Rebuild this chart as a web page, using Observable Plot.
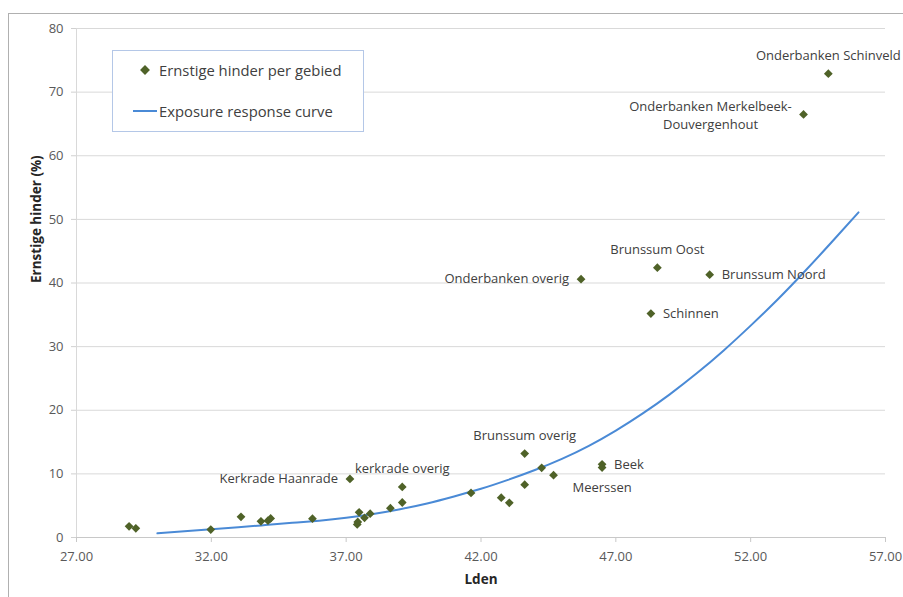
<!DOCTYPE html>
<html>
<head>
<meta charset="utf-8">
<script src="https://cdn.jsdelivr.net/npm/d3@7"></script>
<script src="https://cdn.jsdelivr.net/npm/@observablehq/plot@0.6"></script>
<style>
  html, body { margin: 0; padding: 0; background: #fff; overflow: hidden; }
  #wrap { position: relative; width: 903px; height: 597px; overflow: hidden; font-family: "Open Sans", sans-serif; }
  #frame { position: absolute; left: 8px; top: 13px; width: 1000px; height: 1000px; border-left: 1px solid #b0b0b0; border-top: 1px solid #b0b0b0; box-sizing: border-box; }
  #chart { position: absolute; left: 0; top: 0; }
  #legend { position: absolute; left: 112px; top: 50px; width: 252px; height: 82px; border: 1px solid #b4c7e7; box-sizing: border-box; background: #fff; font-size: 14.8px; color: #404040; }
  .li { position: absolute; left: 0; white-space: nowrap; }
  .li svg { position: absolute; }
  .li span { position: absolute; left: 46px; line-height: 20px; }
</style>
</head>
<body>
<div id="wrap">
  <div id="frame"></div>
  <div id="chart"></div>
  <div id="legend"></div>
</div>
<script>
// Data: Lden (dB) and "ernstige hinder" (%) per gebied
const lden = [28.95, 29.2, 31.98, 33.1, 33.84, 34.1, 34.2, 35.75, 37.14, 37.41, 37.43, 37.48, 37.68, 37.89, 38.64, 39.08, 39.08, 41.63, 42.75, 43.05, 43.62, 43.62, 44.25, 44.69, 46.49, 46.49, 45.71, 48.3, 48.54, 50.48, 53.96, 54.88];
const hinder = [1.75, 1.45, 1.25, 3.25, 2.55, 2.65, 3.0, 2.95, 9.2, 2.05, 2.45, 3.95, 3.1, 3.75, 4.6, 5.5, 7.95, 7.0, 6.25, 5.45, 8.3, 13.2, 10.95, 9.8, 11.5, 11.0, 40.6, 35.2, 42.4, 41.3, 66.5, 72.9];
const gebied = ["", "", "", "", "", "", "", "", "Kerkrade Haanrade", "", "", "", "", "", "", "", "kerkrade overig", "", "", "", "", "Brunssum overig", "", "", "Beek", "Meerssen", "Onderbanken overig", "Schinnen", "Brunssum Oost", "Brunssum Noord", "Onderbanken Merkelbeek-\nDouvergenhout", "Onderbanken Schinveld"];

// Exposure response curve
const curveLden = [30, 31, 32, 33, 34, 35, 36, 37, 38, 39, 40, 41, 42, 43, 44, 45, 46, 47, 48, 49, 50, 51, 52, 53, 54, 55, 56];
const curveHinder = [0.65, 1.0, 1.3, 1.6, 1.95, 2.3, 2.65, 3.1, 3.7, 4.45, 5.35, 6.45, 7.65, 9.05, 10.6, 12.35, 14.4, 16.8, 19.5, 22.5, 25.8, 29.4, 33.3, 37.4, 41.8, 46.4, 51.1];

const xTicks = [27, 32, 37, 42, 47, 52, 57];
const yTicks = [0, 10, 20, 30, 40, 50, 60, 70, 80];

const seriesNames = ["Ernstige hinder per gebied", "Exposure response curve"];
const xTitle = "Lden";
const yTitle = "Ernstige hinder (%)";

// label placement (style, not data)
const placement = {
  "Kerkrade Haanrade": "left",
  "kerkrade overig": "top",
  "Brunssum overig": "top",
  "Beek": "right",
  "Meerssen": "bottom",
  "Onderbanken overig": "left",
  "Schinnen": "right",
  "Brunssum Oost": "top",
  "Brunssum Noord": "right",
  "Onderbanken Merkelbeek-\nDouvergenhout": "block",
  "Onderbanken Schinveld": "top"
};

const points = lden.map((x, i) => ({x, y: hinder[i], name: gebied[i]}));
const curve = curveLden.map((x, i) => ({x, y: curveHinder[i]}));
const labelled = p => points.filter(d => d.name && placement[d.name] === p);

const olive = "#4f6228";
const blue = "#4a8ad6";
const textColor = "#404040";

const chart = Plot.plot({
  width: 903,
  height: 597,
  marginLeft: 76,
  marginRight: 18,
  marginTop: 28,
  marginBottom: 60,
  style: {fontFamily: "Open Sans, sans-serif", fontSize: "13px", color: textColor, background: "transparent"},
  x: {domain: [27, 57]},
  y: {domain: [0, 80]},
  marks: [
    Plot.gridY(yTicks.filter(t => t > 0), {stroke: "#d9d9d9", strokeOpacity: 1}),
    Plot.ruleX([27], {stroke: "#d9d9d9"}),
    Plot.ruleY([0], {stroke: "#c8c8c8"}),
    Plot.axisY({ticks: yTicks, tickSize: 5, tickPadding: 8, stroke: "#d0d0d0", fill: "#595959", label: null}),
    Plot.axisX({ticks: xTicks, tickSize: 5, tickPadding: 9, tickFormat: d3.format(".2f"), stroke: "#c8c8c8", fill: "#595959", label: null}),
    Plot.text([yTitle], {frameAnchor: "left", dx: -40, rotate: -90, fontWeight: "bold", fontSize: 13.5, fill: "#262626"}),
    Plot.text([xTitle], {frameAnchor: "bottom", dy: 46, fontWeight: "bold", fontSize: 13.5, fill: "#262626"}),
    Plot.line(curve, {x: "x", y: "y", stroke: blue, strokeWidth: 2, curve: "natural"}),
    Plot.dot(points, {x: "x", y: "y", symbol: "square", r: 3.5, rotate: 45, fill: olive, stroke: "none"}),
    Plot.text(labelled("top"), {x: "x", y: "y", text: "name", dy: -18, textAnchor: "middle", fill: textColor}),
    Plot.text(labelled("bottom"), {x: "x", y: "y", text: "name", dy: 20, textAnchor: "middle", fill: textColor}),
    Plot.text(labelled("left"), {x: "x", y: "y", text: "name", dx: -12, textAnchor: "end", fill: textColor}),
    Plot.text(labelled("right"), {x: "x", y: "y", text: "name", dx: 12, textAnchor: "start", fill: textColor}),
    Plot.text(labelled("block"), {x: "x", y: "y", text: "name", dx: -93, textAnchor: "middle", lineHeight: 1.38, fill: textColor})
  ]
});
document.getElementById("chart").appendChild(chart);

// Legend (inside plot area, as in the original)
const legend = document.getElementById("legend");
legend.innerHTML = `
  <div class="li" style="top:9px;">
    <svg width="20" height="20" style="left:22px;top:0px;"><rect x="6.5" y="6.5" width="7" height="7" fill="${olive}" transform="rotate(45 10 10)"/></svg>
    <span style="top:0px;">${seriesNames[0]}</span>
  </div>
  <div class="li" style="top:50px;">
    <svg width="30" height="20" style="left:20px;top:0px;"><line x1="0" x2="24" y1="10" y2="10" stroke="${blue}" stroke-width="2"/></svg>
    <span style="top:0px;">${seriesNames[1]}</span>
  </div>`;
</script>
</body>
</html>
